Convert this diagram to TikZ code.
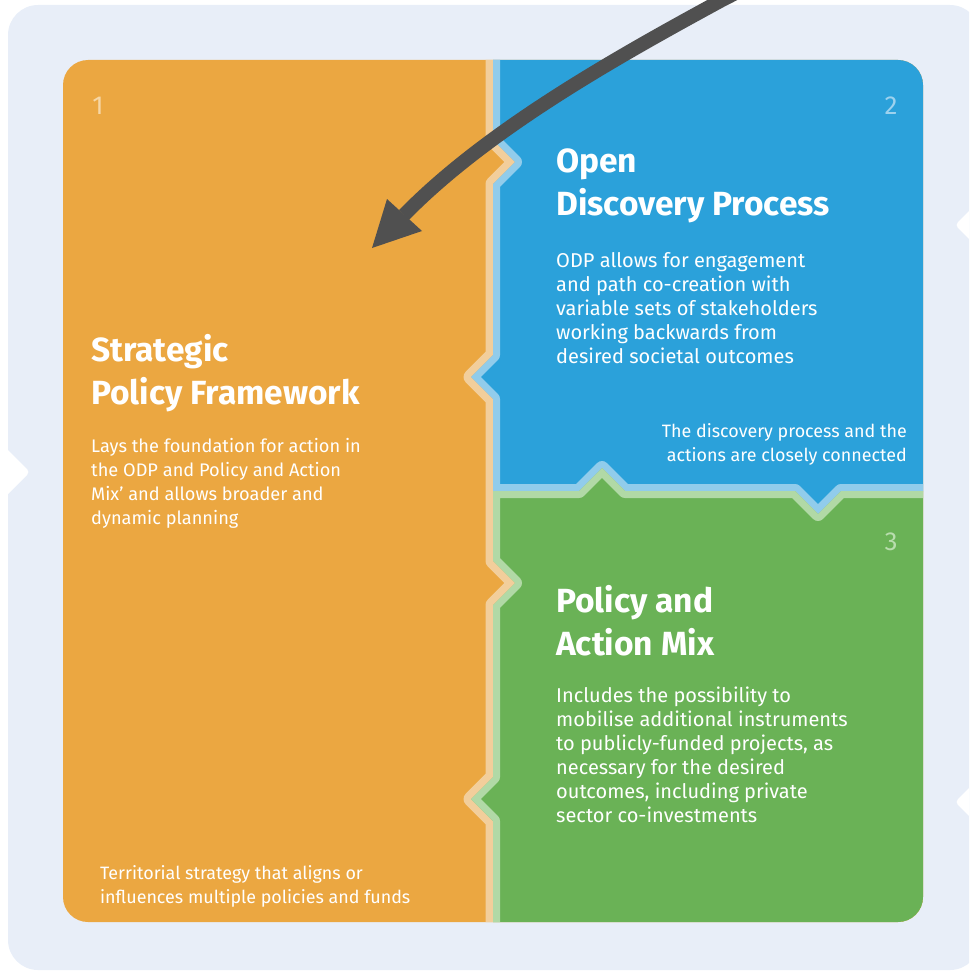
\documentclass[tikz,border=0pt]{standalone}
\usepackage{fontspec}
\setmainfont{Fira Sans}
\definecolor{bgc}{HTML}{E8EEF8}
\definecolor{orangec}{HTML}{EBA741}
\definecolor{orangel}{HTML}{F2CE9B}
\definecolor{bluec}{HTML}{2BA1DA}
\definecolor{bluel}{HTML}{91CCEB}
\definecolor{greenc}{HTML}{6AB256}
\definecolor{greenl}{HTML}{B1D9A6}
\definecolor{arrowc}{HTML}{505050}
\definecolor{numo}{HTML}{F6D7A6}
\definecolor{numb}{HTML}{9DD2EE}
\definecolor{numg}{HTML}{B9DDAE}
\begin{document}
\begin{tikzpicture}[x=1pt,y=-1pt,line join=round,
  heading/.style={anchor=north west,inner sep=0pt,align=left,text=white,font=\fontsize{33.5}{43}\selectfont\bfseries},
  bodytext/.style={anchor=north west,inner sep=0pt,align=left,text=white,font=\fontsize{20}{24}\selectfont},
  smalltext/.style={anchor=north west,inner sep=0pt,align=left,text=white,font=\fontsize{18.2}{24}\selectfont},
  notetext/.style={anchor=north west,inner sep=0pt,align=left,text=white,font=\fontsize{17.9}{24}\selectfont},
  numtext/.style={anchor=base,inner sep=0pt,font=\fontsize{26}{30}\selectfont}]
\useasboundingbox (0,0) rectangle (969,971);
\begin{scope}
\clip (0,0) rectangle (969,971);
% background with notches
\fill[bgc,rounded corners=30pt] (8,5) rectangle (980,970);
\fill[white,rounded corners=4pt] (-10,432) -- (30,472) -- (-10,512) -- cycle;
\fill[white,rounded corners=4pt] (995,185) -- (955,225) -- (995,265) -- cycle;
\fill[white,rounded corners=4pt] (995,762) -- (955,802) -- (995,842) -- cycle;
% panels
\begin{scope}
\clip[rounded corners=25pt] (63,60) rectangle (923,922);
\fill[orangec] (40,40) rectangle (940,940);
\fill[bluec] (493,40) -- (493,140) -- (515,162) -- (493,184) -- (493,355) -- (471,377) -- (493,399) -- (493,491)
  -- (579,491) -- (602,468) -- (625,491) -- (795,491) -- (818,514) -- (841,491) -- (940,491) -- (940,40) -- cycle;
\fill[greenc] (493,491) -- (579,491) -- (602,468) -- (625,491) -- (795,491) -- (818,514) -- (841,491) -- (940,491)
  -- (940,940) -- (493,940) -- (493,821) -- (471,799) -- (493,777) -- (493,605) -- (515,583) -- (493,561) -- cycle;
% orange-side stripe
\begin{scope}
\clip (40,40) -- (493,40) -- (493,140) -- (515,162) -- (493,184) -- (493,355) -- (471,377) -- (493,399) -- (493,561)
  -- (515,583) -- (493,605) -- (493,777) -- (471,799) -- (493,821) -- (493,940) -- (40,940) -- cycle;
\draw[orangel,line width=15pt] (493,40) -- (493,140) -- (515,162) -- (493,184) -- (493,355) -- (471,377) -- (493,399) -- (493,561)
  -- (515,583) -- (493,605) -- (493,777) -- (471,799) -- (493,821) -- (493,940);
\end{scope}
% blue-side stripe
\begin{scope}
\clip (493,40) -- (493,140) -- (515,162) -- (493,184) -- (493,355) -- (471,377) -- (493,399) -- (493,491)
  -- (579,491) -- (602,468) -- (625,491) -- (795,491) -- (818,514) -- (841,491) -- (940,491) -- (940,40) -- cycle;
\draw[bluel,line width=14pt] (493,40) -- (493,140) -- (515,162) -- (493,184) -- (493,355) -- (471,377) -- (493,399) -- (493,491)
  -- (579,491) -- (602,468) -- (625,491) -- (795,491) -- (818,514) -- (841,491) -- (940,491);
\end{scope}
% green-side stripe
\begin{scope}
\clip (493,491) -- (579,491) -- (602,468) -- (625,491) -- (795,491) -- (818,514) -- (841,491) -- (940,491)
  -- (940,940) -- (493,940) -- (493,821) -- (471,799) -- (493,777) -- (493,605) -- (515,583) -- (493,561) -- cycle;
\draw[greenl,line width=14pt] (940,491) -- (841,491) -- (818,514) -- (795,491) -- (625,491) -- (602,468) -- (579,491) -- (493,491)
  -- (493,561) -- (515,583) -- (493,605) -- (493,777) -- (471,799) -- (493,821) -- (493,940);
\end{scope}
\end{scope}
% numbers
\node[numtext,text=numo] (n1) at (98,115) {1};
\node[numtext,text=numb] (n2) at (891,115) {2};
\node[numtext,text=numg] (n3) at (891,550) {3};
% texts
\node[heading] (spfh) at (91,334) {Strategic\\Policy Framework};
\node[smalltext] (spfb) at (91,438) {Lays the foundation for action in\\the ODP and Policy and Action\\Mix' and allows broader and\\dynamic planning};
\node[notetext] (spfn) at (100,865) {Territorial strategy that aligns or\\influences multiple policies and funds};
\node[heading] (odph) at (556,149) {Open\\Discovery Process};
\node[bodytext] (odpb) at (556,252) {ODP allows for engagement\\and path co-creation with\\variable sets of stakeholders\\working backwards from\\desired societal outcomes};
\node[notetext,anchor=north east,align=right] (odpn) at (907,423) {The discovery process and the\\actions are closely connected};
\node[heading] (pamh) at (556,585) {Policy and\\Action Mix};
\node[bodytext] (pamb) at (556,687) {Includes the possibility to\\mobilise additional instruments\\to publicly-funded projects, as\\necessary for the desired\\outcomes, including private\\sector co-investments};
% arrow
\coordinate (arrowstart) at (775,-27);
\coordinate (arrowbase) at (404,215);
\coordinate (arrowtip) at (372,248);
\draw[arrowc,line width=14pt] (arrowstart) -- (722,0) .. controls (619,56) and (488,129) .. (arrowbase);
\fill[arrowc] (arrowtip) -- (387,199) -- (422,231) -- cycle;
\end{scope}
\end{tikzpicture}
\end{document}
